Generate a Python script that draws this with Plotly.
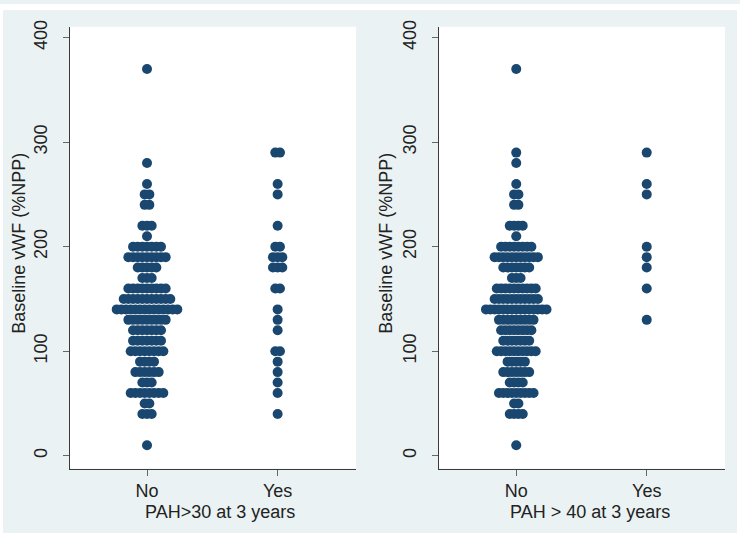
import plotly.graph_objects as go

# ---- data (vWF values in %NPP and number of patients at each value) ----
categories = ["No", "Yes"]
y_ticks = [0, 100, 200, 300, 400]

# PAH>30 at 3 years
no30_values = [370, 280, 260, 250, 240, 220, 210, 200, 190, 180, 170, 160, 150, 140,
               130, 120, 110, 100, 90, 80, 70, 60, 50, 40, 10]
no30_counts = [1, 1, 1, 2, 2, 3, 1, 7, 9, 5, 3, 9, 11, 14,
               9, 7, 7, 8, 4, 6, 3, 8, 2, 3, 1]
yes30_values = [290, 260, 250, 220, 200, 190, 180, 160, 140, 130, 120, 100, 90, 80, 70, 60, 40]
yes30_counts = [2, 1, 1, 1, 2, 3, 3, 2, 1, 1, 1, 2, 1, 1, 1, 1, 1]

# PAH>40 at 3 years
no40_values = [370, 290, 280, 260, 250, 240, 220, 210, 200, 190, 180, 170, 160, 150, 140,
               130, 120, 110, 100, 90, 80, 70, 60, 50, 40, 10]
no40_counts = [1, 1, 1, 1, 2, 2, 4, 1, 8, 11, 7, 3, 10, 11, 15,
               9, 8, 7, 10, 5, 7, 4, 9, 2, 4, 1]
yes40_values = [290, 260, 250, 200, 190, 180, 160, 130]
yes40_counts = [1, 1, 1, 1, 1, 1, 1, 1]

x_titles = ["PAH>30 at 3 years", "PAH > 40 at 3 years"]
y_title = "Baseline vWF (%NPP)"

NAVY = "#1a476f"
BG = "#eaf2f3"
FONT = "Liberation Sans, Arial, sans-serif"
W, H = 740, 536


def dotplot_xy(groups, max_halfwidth=0.232):
    """Stata-style dotplot: dots at each value spread symmetrically around the
    group position, spacing scaled so the widest row fills max_halfwidth."""
    max_n = max(max(c) for _, _, c in groups)
    step = 2 * max_halfwidth / (max_n - 1)
    out = []
    for pos, vals, cnts in groups:
        xs, ys = [], []
        for v, n in zip(vals, cnts):
            for i in range(n):
                xs.append(pos + (i - (n - 1) / 2) * step)
                ys.append(v)
        out.append((xs, ys))
    return out


panels = [
    [(1, no30_values, no30_counts), (2, yes30_values, yes30_counts)],
    [(1, no40_values, no40_counts), (2, yes40_values, yes40_counts)],
]

fig = go.Figure()
for p, groups in enumerate(panels):
    ax = "" if p == 0 else "2"
    for xs, ys in dotplot_xy(groups):
        fig.add_trace(go.Scatter(
            x=xs, y=ys, mode="markers", xaxis="x" + ax, yaxis="y" + ax,
            marker=dict(color=NAVY, size=10, line=dict(width=0)),
            showlegend=False, hoverinfo="y"))

y_top, y_bot = 20, 467.7
ydom = [1 - y_bot / H, 1 - y_top / H]
xdoms = [[69.7 / W, 356 / W], [439 / W, 725 / W]]

common_x = dict(
    range=[0.408, 2.6], tickvals=[1, 2], ticktext=categories,
    showline=True, linecolor="#3a3a3a", linewidth=1, showgrid=False, zeroline=False,
    ticks="outside", ticklen=6, tickcolor="#666", tickwidth=1.3,
    tickfont=dict(family=FONT, size=18, color="#222"), fixedrange=True)
common_y = dict(
    range=[-12.3, 410.4], tickvals=y_ticks, ticktext=[str(t) for t in y_ticks],
    showline=True, linecolor="#3a3a3a", linewidth=1, showgrid=False, zeroline=False,
    ticks="outside", ticklen=6, tickcolor="#666", tickwidth=1.3, tickangle=-90,
    ticklabelstandoff=9,
    tickfont=dict(family=FONT, size=18, color="#222"), fixedrange=True)

fig.update_layout(
    width=W, height=H, autosize=False,
    margin=dict(l=0, r=0, t=0, b=0),
    paper_bgcolor=BG, plot_bgcolor="white",
    xaxis=dict(domain=xdoms[0], anchor="y", **common_x),
    yaxis=dict(domain=ydom, anchor="x", **common_y),
    xaxis2=dict(domain=xdoms[1], anchor="y2", **common_x),
    yaxis2=dict(domain=ydom, anchor="x2", **common_y),
    shapes=[dict(type="rect", xref="paper", yref="paper", x0=0, x1=1, y0=0, y1=1,
                 line=dict(color="white", width=6), fillcolor="rgba(0,0,0,0)",
                 layer="above")],
)

anns = []
for xt_center, yt_center, xt in [(220, 19, x_titles[0]), (590, 386, x_titles[1])]:
    anns.append(dict(text=xt, xref="paper", yref="paper", x=xt_center / W,
                     y=1 - 512 / H, xanchor="center", yanchor="middle", showarrow=False,
                     font=dict(family=FONT, size=18, color="#222")))
    anns.append(dict(text=y_title, xref="paper", yref="paper", x=yt_center / W,
                     y=1 - 240 / H, xanchor="center", yanchor="middle", showarrow=False,
                     textangle=-90, font=dict(family=FONT, size=18, color="#222")))
fig.update_layout(annotations=anns)

fig.write_html("out.html", config={"displayModeBar": False},
               post_script="document.body.style.margin='0';"
                           "document.body.style.overflow='hidden';")
